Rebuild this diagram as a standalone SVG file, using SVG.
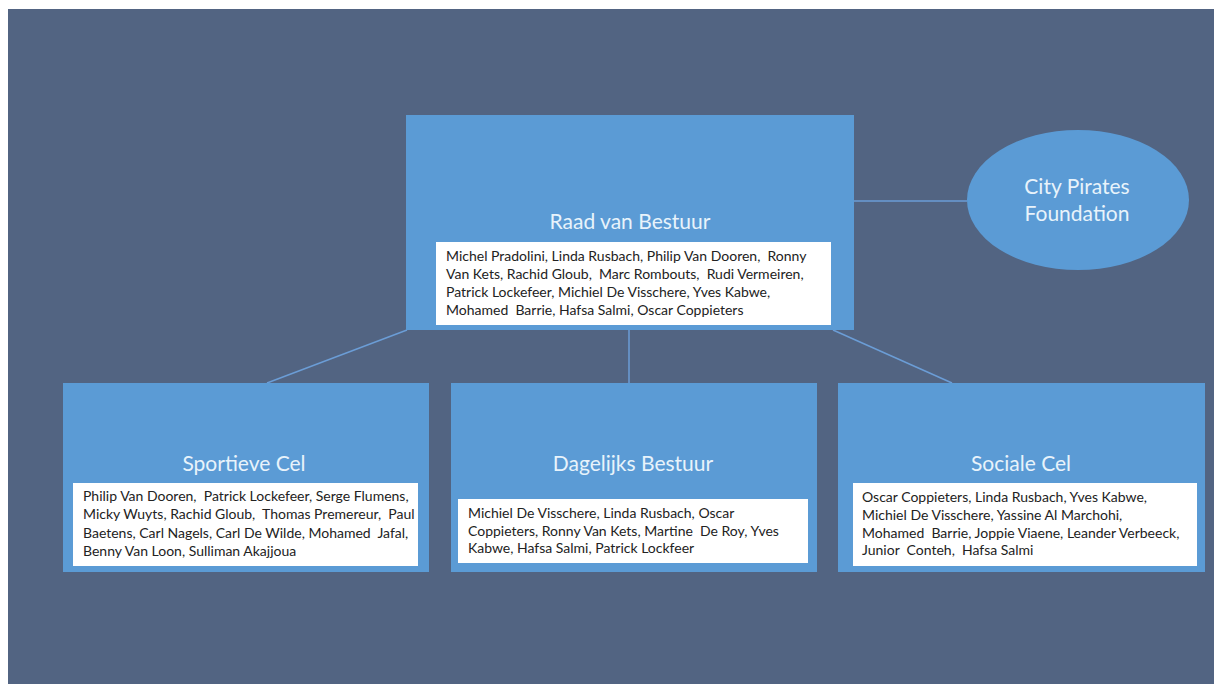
<svg xmlns="http://www.w3.org/2000/svg" width="1214" height="684" viewBox="0 0 1214 684">
<style>
.bg{fill:#526482}
.box{fill:#5b9bd5}
.inner{fill:#ffffff}
.title{font-family:Lato,"Liberation Sans",sans-serif;font-size:21px;fill:#e8f3fb;text-anchor:middle}
.mem{font-family:Lato,"Liberation Sans",sans-serif;font-size:14px;fill:#222222;white-space:pre}
.conn{stroke:#6b9dd6;stroke-width:1.5;fill:none}
</style>
<rect x="0" y="0" width="1214" height="684" fill="#ffffff"/>
<rect class="bg" x="8" y="9" width="1206" height="675"/>
<g id="connectors">
<line class="conn" x1="854" y1="201" x2="967" y2="201"/>
<line class="conn" x1="407" y1="330" x2="267" y2="383"/>
<line class="conn" x1="629" y1="330" x2="629" y2="383"/>
<line class="conn" x1="833" y1="330" x2="952" y2="383"/>
</g>
<g id="raad">
<rect class="box" x="406" y="115" width="448" height="215"/>
<text class="title" x="630" y="229">Raad van Bestuur</text>
<rect class="inner" x="436" y="242" width="395" height="83"/>
<text class="mem" x="446" y="261">Michel Pradolini, Linda Rusbach, Philip Van Dooren,  Ronny</text>
<text class="mem" x="446" y="279">Van Kets, Rachid Gloub,  Marc Rombouts,  Rudi Vermeiren,</text>
<text class="mem" x="446" y="297">Patrick Lockefeer, Michiel De Visschere, Yves Kabwe,</text>
<text class="mem" x="446" y="315">Mohamed  Barrie, Hafsa Salmi, Oscar Coppieters</text>
</g>
<g id="foundation">
<ellipse class="box" cx="1078" cy="200" rx="111" ry="70"/>
<text class="title" x="1077" y="194">City Pirates</text>
<text class="title" x="1077" y="221">Foundation</text>
</g>
<g id="sportieve">
<rect class="box" x="63" y="383" width="366" height="189"/>
<text class="title" x="244" y="471">Sportieve Cel</text>
<rect class="inner" x="73" y="483" width="345" height="83"/>
<text class="mem" x="83" y="501">Philip Van Dooren,  Patrick Lockefeer, Serge Flumens,</text>
<text class="mem" x="83" y="519">Micky Wuyts, Rachid Gloub,  Thomas Premereur,  Paul</text>
<text class="mem" x="83" y="538">Baetens, Carl Nagels, Carl De Wilde, Mohamed  Jafal,</text>
<text class="mem" x="83" y="556">Benny Van Loon, Sulliman Akajjoua</text>
</g>
<g id="dagelijks">
<rect class="box" x="451" y="383" width="366" height="189"/>
<text class="title" x="633" y="471">Dagelijks Bestuur</text>
<rect class="inner" x="458" y="499" width="350" height="64"/>
<text class="mem" x="468" y="518">Michiel De Visschere, Linda Rusbach, Oscar</text>
<text class="mem" x="468" y="536">Coppieters, Ronny Van Kets, Martine  De Roy, Yves</text>
<text class="mem" x="468" y="553">Kabwe, Hafsa Salmi, Patrick Lockfeer</text>
</g>
<g id="sociale">
<rect class="box" x="838" y="383" width="367" height="189"/>
<text class="title" x="1021" y="471">Sociale Cel</text>
<rect class="inner" x="853" y="483" width="344" height="83"/>
<text class="mem" x="862" y="502">Oscar Coppieters, Linda Rusbach, Yves Kabwe,</text>
<text class="mem" x="862" y="520">Michiel De Visschere, Yassine Al Marchohi,</text>
<text class="mem" x="862" y="538">Mohamed  Barrie, Joppie Viaene, Leander Verbeeck,</text>
<text class="mem" x="862" y="555">Junior  Conteh,  Hafsa Salmi</text>
</g>
</svg>
